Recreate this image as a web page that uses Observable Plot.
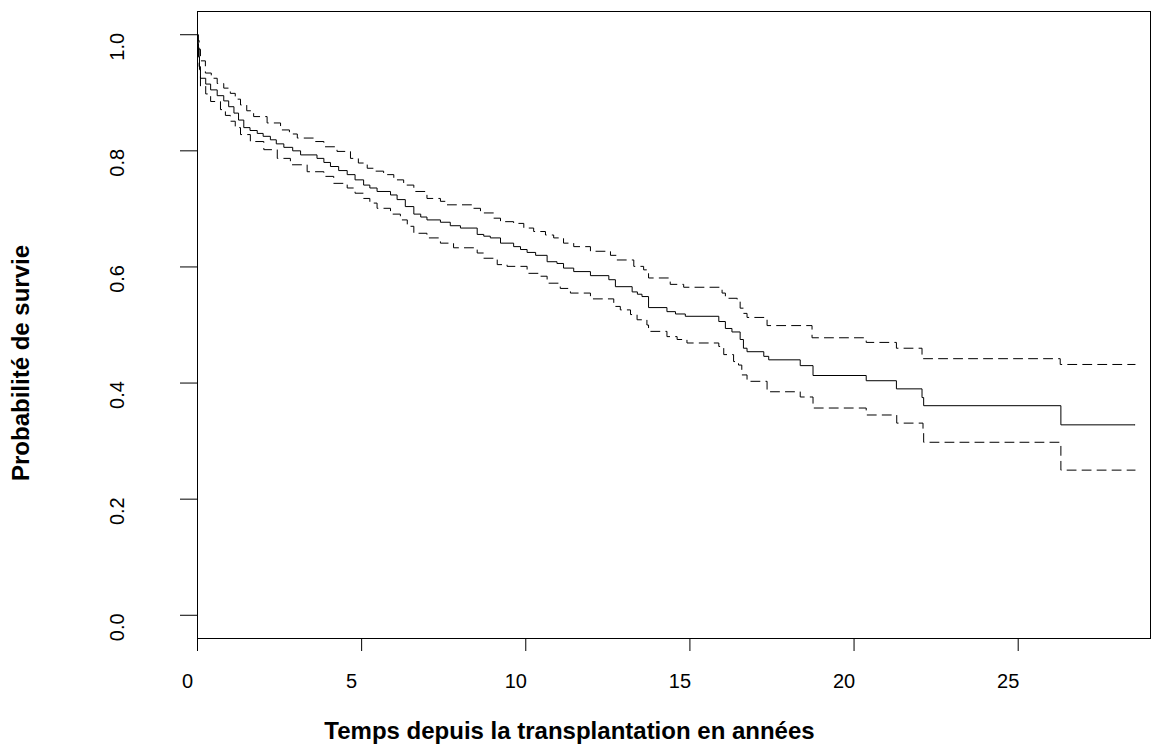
<!DOCTYPE html>
<html><head><meta charset="utf-8">
<script src="https://cdn.jsdelivr.net/npm/d3@7"></script>
<script src="https://cdn.jsdelivr.net/npm/@observablehq/plot@0.6"></script>
<style>html,body{margin:0;padding:0;background:#fff;overflow:hidden}</style>
</head><body><div id="chart"></div>
<script>
// Kaplan-Meier estimate (solid)
const survTime = [0, 0.01, 0.03, 0.06, 0.09, 0.25, 0.40, 0.6, 0.80, 0.95, 1.11, 1.25, 1.41, 1.6, 1.82, 2.0, 2.22, 2.4, 2.63, 2.9, 3.14, 3.64, 3.85, 4.05, 4.3, 4.56, 4.8, 5.06, 5.25, 5.47, 5.88, 6.08, 6.33, 6.59, 6.8, 6.99, 7.40, 7.70, 8.01, 8.52, 8.72, 8.92, 9.23, 9.63, 9.84, 10.04, 10.3, 10.65, 10.95, 11.15, 11.46, 11.97, 12.53, 12.73, 13.24, 13.4, 13.54, 13.74, 14.30, 14.56, 14.86, 15.88, 16.08, 16.28, 16.53, 16.63, 16.74, 17.25, 17.40, 18.36, 18.75, 20.37, 21.29, 22.07, 22.12, 26.30, 28.56];
const survProb = [1.0, 0.985, 0.962, 0.94, 0.925, 0.915, 0.905, 0.895, 0.886, 0.876, 0.865, 0.853, 0.840, 0.835, 0.830, 0.825, 0.819, 0.812, 0.806, 0.800, 0.793, 0.787, 0.780, 0.773, 0.766, 0.759, 0.750, 0.741, 0.736, 0.730, 0.724, 0.716, 0.704, 0.691, 0.686, 0.681, 0.677, 0.671, 0.667, 0.656, 0.653, 0.650, 0.641, 0.635, 0.630, 0.625, 0.620, 0.609, 0.606, 0.598, 0.592, 0.585, 0.578, 0.566, 0.557, 0.553, 0.549, 0.530, 0.523, 0.519, 0.515, 0.506, 0.494, 0.488, 0.475, 0.460, 0.454, 0.446, 0.440, 0.430, 0.413, 0.404, 0.390, 0.375, 0.361, 0.328, 0.328];

// Upper confidence bound (dashed)
const upperTime = [0, 0.02, 0.05, 0.09, 0.24, 0.42, 0.60, 0.8, 1.00, 1.15, 1.31, 1.5, 1.71, 2.12, 2.53, 2.8, 3.04, 3.54, 3.85, 4.25, 4.66, 4.9, 5.17, 5.4, 5.67, 5.98, 6.28, 6.59, 6.99, 7.40, 7.60, 8.41, 8.62, 9.02, 9.23, 9.63, 9.94, 10.24, 10.60, 10.85, 11.15, 11.46, 11.97, 12.58, 12.78, 13.29, 13.59, 13.74, 14.40, 14.81, 15.98, 16.08, 16.44, 16.53, 16.63, 16.74, 17.35, 18.72, 20.37, 21.29, 22.07, 26.28, 28.56];
const upperProb = [1.0, 0.99, 0.975, 0.955, 0.934, 0.925, 0.916, 0.908, 0.899, 0.889, 0.879, 0.869, 0.859, 0.848, 0.836, 0.829, 0.822, 0.816, 0.807, 0.799, 0.787, 0.779, 0.770, 0.765, 0.759, 0.750, 0.741, 0.730, 0.718, 0.713, 0.707, 0.701, 0.693, 0.684, 0.678, 0.675, 0.667, 0.661, 0.655, 0.650, 0.641, 0.635, 0.627, 0.620, 0.612, 0.601, 0.595, 0.581, 0.570, 0.565, 0.555, 0.546, 0.540, 0.529, 0.520, 0.513, 0.499, 0.478, 0.470, 0.460, 0.442, 0.432, 0.432];

// Lower confidence bound (dashed)
const lowerTime = [0, 0.02, 0.05, 0.09, 0.25, 0.40, 0.70, 0.85, 1.00, 1.15, 1.31, 1.61, 2.02, 2.43, 2.83, 3.34, 3.85, 4.15, 4.56, 4.8, 5.06, 5.25, 5.47, 5.88, 6.18, 6.39, 6.59, 6.99, 7.40, 7.80, 8.52, 8.72, 9.13, 9.43, 10.04, 10.44, 10.65, 11.05, 11.36, 11.97, 12.68, 12.88, 13.19, 13.39, 13.69, 13.74, 14.30, 14.61, 14.91, 15.88, 16.03, 16.33, 16.48, 16.58, 16.74, 17.35, 18.36, 18.75, 20.37, 21.30, 22.10, 22.12, 26.30, 28.56];
const lowerProb = [1.0, 0.975, 0.945, 0.911, 0.898, 0.885, 0.871, 0.861, 0.851, 0.84, 0.828, 0.816, 0.802, 0.787, 0.776, 0.764, 0.756, 0.744, 0.736, 0.727, 0.718, 0.710, 0.701, 0.691, 0.681, 0.670, 0.658, 0.650, 0.641, 0.633, 0.624, 0.615, 0.604, 0.601, 0.589, 0.584, 0.572, 0.563, 0.555, 0.545, 0.532, 0.526, 0.518, 0.509, 0.500, 0.489, 0.480, 0.475, 0.469, 0.463, 0.449, 0.437, 0.431, 0.414, 0.403, 0.385, 0.376, 0.357, 0.345, 0.331, 0.317, 0.298, 0.250, 0.250];

const xTicks = [0, 5, 10, 15, 20, 25];
const xTickLabels = ["0", "5", "10", "15", "20", "25"];
const yTicks = [0, 0.2, 0.4, 0.6, 0.8, 1.0];
const yTickLabels = ["0.0", "0.2", "0.4", "0.6", "0.8", "1.0"];
const xTitle = "Temps depuis la transplantation en années";
const yTitle = "Probabilité de survie";

const rows = (t, v) => t.map((d, i) => ({t: d, v: v[i]}));
const txt = {textAnchor: "middle", lineAnchor: "middle", fill: "black"};

const chart = Plot.plot({
  width: 1169, height: 744,
  marginLeft: 197, marginRight: 19, marginTop: 11, marginBottom: 106,
  style: {fontFamily: "'Liberation Sans', Arial, sans-serif", background: "white", color: "black"},
  x: {domain: [0, 29.03]},
  y: {domain: [-0.04, 1.04]},
  marks: [
    Plot.frame({stroke: "black", strokeWidth: 1}),
    Plot.axisX(xTicks, {tickSize: 13, fill: "none", label: null, stroke: "black"}),
    Plot.axisY(yTicks, {tickSize: 17, fill: "none", label: null, stroke: "black"}),
    Plot.text(xTicks, {...txt, x: d => d, text: (d, i) => xTickLabels[i], frameAnchor: "bottom", dx: -10, dy: 43, fontSize: 20}),
    Plot.text(yTicks, {...txt, y: d => d, text: (d, i) => yTickLabels[i], frameAnchor: "left", rotate: -90, dx: -80, dy: 12, fontSize: 20}),
    Plot.text([xTitle], {...txt, text: d => d, frameAnchor: "bottom", dx: -104.5, dy: 93, fontSize: 24, fontWeight: "bold"}),
    Plot.text([yTitle], {...txt, text: d => d, frameAnchor: "left", rotate: -90, dx: -176, dy: 38, fontSize: 24, fontWeight: "bold"}),
    Plot.line(rows(upperTime, upperProb), {x: "t", y: "v", curve: "step-after", stroke: "black", strokeWidth: 1, strokeDasharray: "9,6"}),
    Plot.line(rows(lowerTime, lowerProb), {x: "t", y: "v", curve: "step-after", stroke: "black", strokeWidth: 1, strokeDasharray: "9,6"}),
    Plot.line(rows(survTime, survProb), {x: "t", y: "v", curve: "step-after", stroke: "black", strokeWidth: 1})
  ]
});
document.getElementById("chart").appendChild(chart);
</script>
</body></html>
